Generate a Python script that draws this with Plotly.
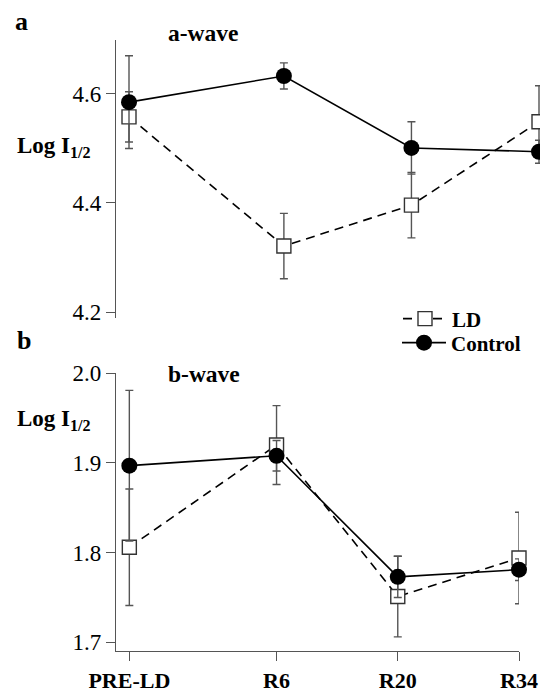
import plotly.graph_objects as go

# ---- data ----
x_labels = ["PRE-LD", "R6", "R20", "R34"]
x_days = [-11, 6, 20, 34]

ld_a = [4.558, 4.321, 4.396, 4.549]
ld_a_err = [0.046, 0.060, 0.060, 0.066]
ctl_a = [4.585, 4.633, 4.501, 4.494]
ctl_a_err = [0.085, 0.024, 0.048, 0.021]

ld_b = [1.806, 1.920, 1.751, 1.794]
ld_b_err = [0.065, 0.044, 0.045, 0.051]
ctl_b = [1.897, 1.908, 1.773, 1.781]
ctl_b_err = [0.084, 0.017, 0.023, 0.012]

a_ticks = [4.2, 4.4, 4.6]
b_ticks = [1.7, 1.8, 1.9, 2.0]

W, H = 540, 691
FONT = "Liberation Serif"
ERRC = "#555555"
AXC = "#555555"


def px(v):
    return v / W


def py(v):
    return 1 - v / H


fig = go.Figure()


def add_series(x, y, err, xa, ya, ld, show):
    if ld:
        fig.add_trace(go.Scatter(
            x=x, y=y, xaxis=xa, yaxis=ya, name="<b>LD</b>", mode="lines+markers",
            line=dict(color="black", width=1.6, dash="9px,6px"),
            marker=dict(symbol="square", size=14, color="white",
                        line=dict(color="#333333", width=1.4)),
            error_y=dict(type="data", array=err, color=ERRC, thickness=1.4, width=4),
            showlegend=show, legend="legend", cliponaxis=False))
    else:
        fig.add_trace(go.Scatter(
            x=x, y=y, xaxis=xa, yaxis=ya, name="<b>Control</b>", mode="lines+markers",
            line=dict(color="black", width=1.6),
            marker=dict(symbol="circle", size=16, color="black",
                        line=dict(color="black", width=0)),
            error_y=dict(type="data", array=err, color=ERRC, thickness=1.4, width=4),
            showlegend=show, legend="legend2", cliponaxis=False))


# top panel (a-wave) on x2/y2
add_series(x_days, ld_a, ld_a_err, "x2", "y2", True, True)
add_series(x_days, ctl_a, ctl_a_err, "x2", "y2", False, True)
# bottom panel (b-wave) on x/y
add_series(x_days, ld_b, ld_b_err, "x", "y", True, False)
add_series(x_days, ctl_b, ctl_b_err, "x", "y", False, False)

tickfont = dict(family=FONT, size=23, color="black")
legfont = dict(family=FONT, size=21, color="black")

# top panel x scale: PRE-LD at 129px, R34 at ~539px
top_scale = (539 - 129) / (34 - (-11))
top_x0 = -11 - (129 - 116) / top_scale
top_x1 = 34 + (540 - 539) / top_scale

fig.update_layout(
    width=W, height=H,
    margin=dict(l=0, r=0, t=0, b=0, pad=0, autoexpand=False),
    paper_bgcolor="white", plot_bgcolor="white",
    font=dict(family=FONT, color="black"),
    xaxis=dict(domain=[px(116), px(519)], range=[-12.54, 34],
               tickvals=x_days, ticktext=["<b>%s</b>" % t for t in x_labels],
               tickfont=dict(family=FONT, size=22, color="black"),
               showline=True, linecolor=AXC, linewidth=1.4,
               ticks="outside", ticklen=9, tickcolor=AXC, tickwidth=1.4,
               showgrid=False, zeroline=False, anchor="y", automargin=False),
    yaxis=dict(domain=[py(651), py(373.3)], range=[1.6903, 2.0],
               tickvals=b_ticks, ticktext=["%.1f" % t for t in b_ticks],
               tickfont=tickfont,
               showline=True, linecolor=AXC, linewidth=1.4,
               ticks="outside", ticklen=9, tickcolor=AXC, tickwidth=1.4,
               showgrid=False, zeroline=False, anchor="x", automargin=False),
    xaxis2=dict(domain=[px(116), 1.0], range=[top_x0, top_x1],
                showline=False, showticklabels=False, ticks="",
                showgrid=False, zeroline=False, anchor="y2", automargin=False),
    yaxis2=dict(domain=[py(318), py(40)], range=[4.189, 4.699],
                tickvals=a_ticks, ticktext=["%.1f" % t for t in a_ticks],
                tickfont=tickfont,
                showline=True, linecolor=AXC, linewidth=1.4,
                ticks="outside", ticklen=9, tickcolor=AXC, tickwidth=1.4,
                showgrid=False, zeroline=False, anchor="x2", automargin=False),
    legend=dict(x=px(398), y=py(319), xanchor="left", yanchor="middle",
                font=legfont, bgcolor="rgba(0,0,0,0)", itemwidth=44),
    legend2=dict(x=px(397), y=py(343), xanchor="left", yanchor="middle",
                 font=legfont, bgcolor="rgba(0,0,0,0)", itemwidth=44),
    showlegend=True,
)

ann = [
    ("<b>a</b>", 13, 21, 26, "left"),
    ("<b>a-wave</b>", 203, 33, 23.5, "center"),
    ("<b>b</b>", 15, 340, 26, "left"),
    ("<b>b-wave</b>", 204, 374, 23.5, "center"),
    ("<b>Log I<sub>1/2</sub></b>", 15, 147, 23, "left"),
    ("<b>Log I<sub>1/2</sub></b>", 15, 420, 23, "left"),
]
for txt, x, y, s, xa in ann:
    fig.add_annotation(text=txt, x=px(x), y=py(y), xref="paper", yref="paper",
                       xanchor=xa, yanchor="middle", showarrow=False,
                       font=dict(family=FONT, size=s, color="black"))

fig.write_html(
    "out.html",
    config={"displayModeBar": False},
    post_script="document.body.style.margin='0';document.body.style.overflow='hidden';",
)
